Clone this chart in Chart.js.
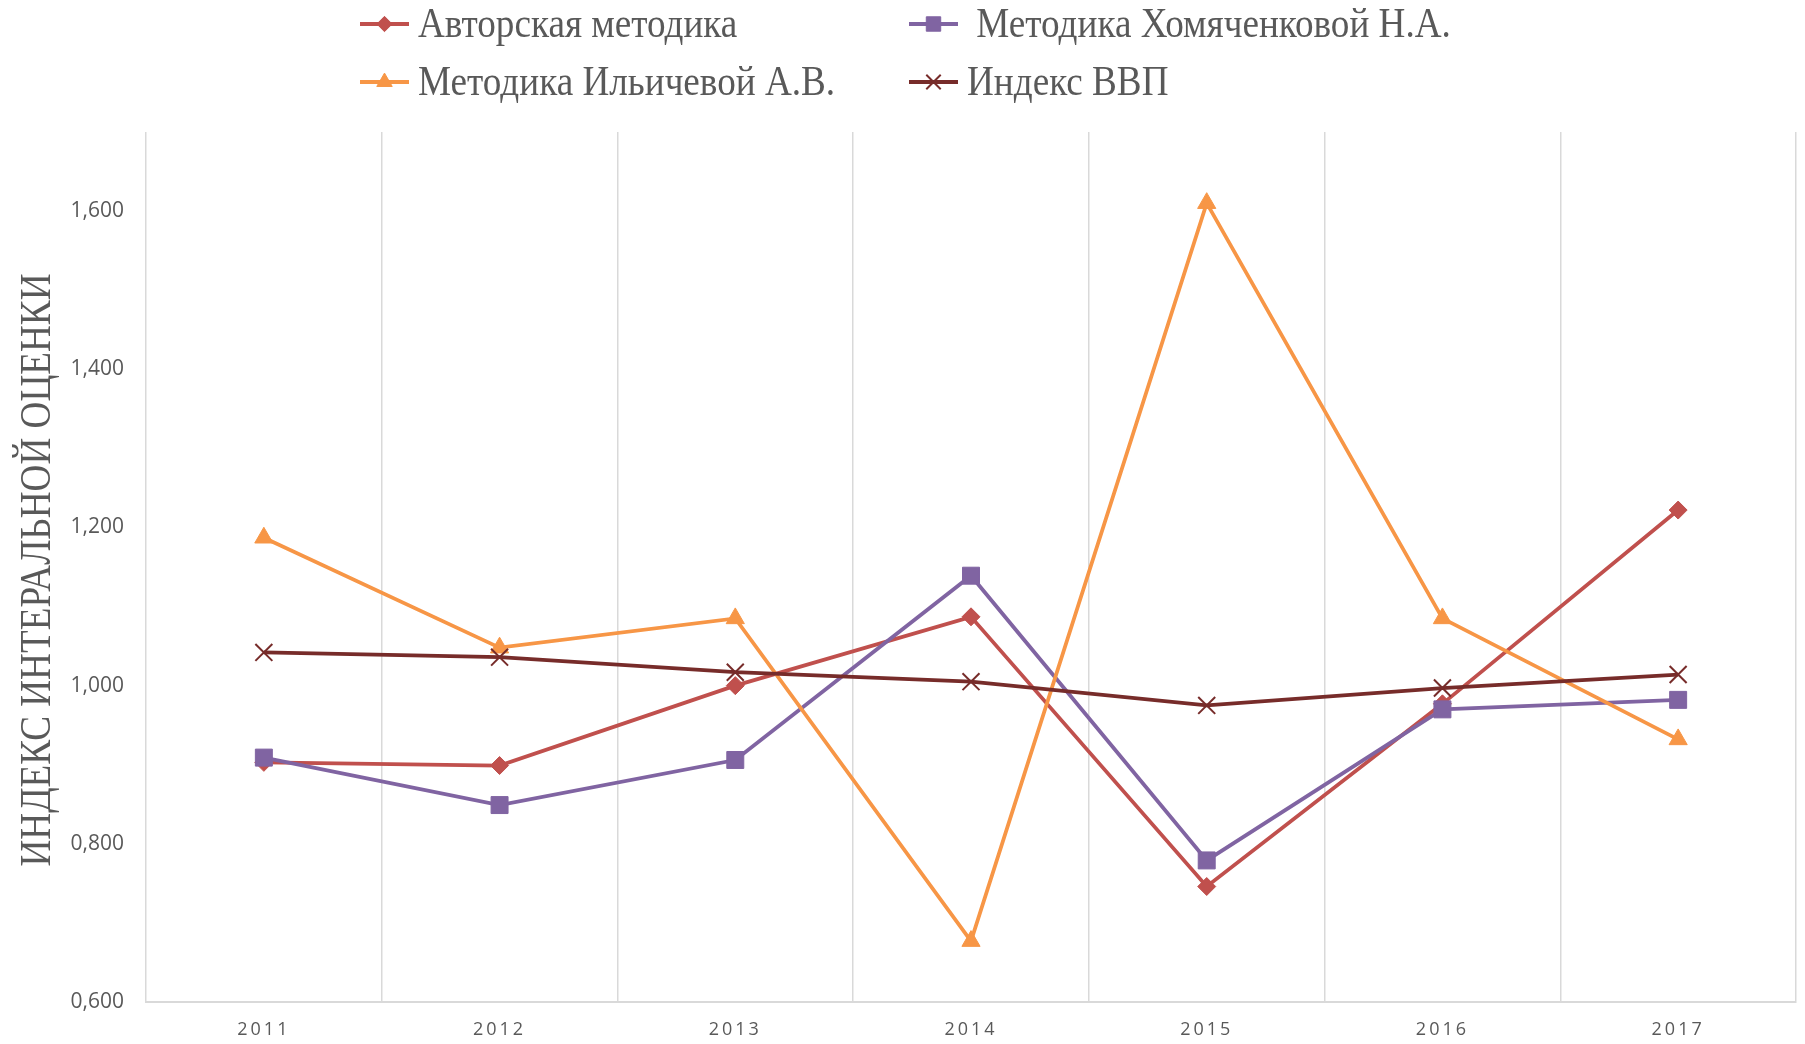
<!DOCTYPE html>
<html>
<head>
<meta charset="utf-8">
<script src="https://cdn.jsdelivr.net/npm/chart.js@4.4.1/dist/chart.umd.min.js"></script>
<style>
  html, body { margin:0; padding:0; background:#fff; overflow:hidden; }
  #wrap { position:relative; width:1805px; height:1044px; }
</style>
</head>
<body>
<div id="wrap"><canvas id="chart"></canvas></div>
<script>
const years = ['2011','2012','2013','2014','2015','2016','2017'];

const seriesLabels = ['Авторская методика', ' Методика Хомяченковой Н.А.', 'Методика Ильичевой А.В.', 'Индекс ВВП'];
const authorValues  = [0.903, 0.899, 1.000, 1.087, 0.746, 0.977, 1.222];
const khomValues    = [0.909, 0.849, 0.906, 1.139, 0.779, 0.970, 0.982];
const ilichValues   = [1.187, 1.048, 1.085, 0.677, 1.610, 1.085, 0.932];
const gdpValues     = [1.042, 1.036, 1.017, 1.005, 0.975, 0.997, 1.014];

const yTicks = [0.6, 0.8, 1.0, 1.2, 1.4, 1.6];
const yTitle = 'ИНДЕКС ИНТЕРАЛЬНОЙ ОЦЕНКИ';

const COLORS = ['#C0504D', '#8064A2', '#F79646', '#772C2A'];
const STYLES = [
  { pointStyle:'rectRot',  radius:9,  bw:1 },
  { pointStyle:'rect',     radius:12, bw:1 },
  { pointStyle:'triangle', radius:10.5, bw:1 },
  { pointStyle:'crossRot', radius:12, bw:2 },
];
const GREY = '#595959';
const SERIF = '"Liberation Serif", "Times New Roman", serif';
const SANS = '"Open Sans", sans-serif';

function fmt(v){
  return Number(v).toFixed(3).replace('.', ',');
}

function makeDataset(i, data){
  const s = STYLES[i];
  return {
    label: seriesLabels[i],
    data,
    borderColor: COLORS[i],
    backgroundColor: COLORS[i],
    borderWidth: 3.75,
    tension: 0,
    pointStyle: s.pointStyle,
    pointRadius: s.radius,
    pointHoverRadius: s.radius,
    pointBackgroundColor: COLORS[i],
    pointBorderColor: COLORS[i],
    pointBorderWidth: s.bw,
    order: 3 - i,
  };
}

// year labels on the x axis are letter-spaced in the original
const spacedX = {
  id:'spacedX',
  afterUpdate(chart){
    const sx = chart.scales.x;
    if (!sx || sx._spaced) return;
    const orig = sx.drawLabels.bind(sx);
    sx.drawLabels = function(area){
      const ctx = chart.ctx;
      ctx.save();
      ctx.letterSpacing = '3px';
      orig(area);
      ctx.restore();
    };
    sx._spaced = true;
  }
};

// legend in two aligned columns + rotated axis title (condensed serif)
const extras = {
  id:'extras',
  afterDraw(chart){
    const ctx = chart.ctx;
    ctx.save();

    const rows = [24, 82];
    const markX = [360, 909];
    const textX = [418, 967];
    chart.data.datasets.forEach((ds, i) => {
      const r = Math.floor(i / 2), c = i % 2;
      const y = rows[r];
      ctx.strokeStyle = ds.borderColor;
      ctx.lineWidth = 4;
      ctx.beginPath();
      ctx.moveTo(markX[c], y);
      ctx.lineTo(markX[c] + 49, y);
      ctx.stroke();
      ctx.fillStyle = ds.pointBackgroundColor;
      ctx.strokeStyle = ds.pointBorderColor;
      ctx.lineWidth = ds.pointBorderWidth;
      Chart.helpers.drawPoint(ctx, {
        pointStyle: ds.pointStyle,
        radius: ds.pointRadius * 0.85,
        rotation: 0,
        borderWidth: ds.pointBorderWidth,
      }, markX[c] + 24.5, y);

      ctx.save();
      ctx.translate(textX[c], y + 2);
      ctx.scale(0.885, 1);
      ctx.font = '42px ' + SERIF;
      ctx.fillStyle = GREY;
      ctx.textAlign = 'left';
      ctx.textBaseline = 'middle';
      ctx.fillText(ds.label, 0, 0);
      ctx.restore();
    });

    const a = chart.chartArea;
    ctx.translate(38, (a.top + a.bottom) / 2 + 3);
    ctx.rotate(-Math.PI / 2);
    ctx.scale(0.845, 1);
    ctx.font = '44px ' + SERIF;
    ctx.fillStyle = GREY;
    ctx.textAlign = 'center';
    ctx.textBaseline = 'middle';
    ctx.fillText(yTitle, 0, 0);
    ctx.restore();
  }
};

const chart = new Chart(document.getElementById('chart'), {
  type: 'line',
  data: {
    labels: years,
    datasets: [
      makeDataset(0, authorValues),
      makeDataset(1, khomValues),
      makeDataset(2, ilichValues),
      makeDataset(3, gdpValues),
    ],
  },
  options: {
    responsive: true,
    maintainAspectRatio: false,
    animation: false,
    devicePixelRatio: 1,
    layout: { autoPadding:false, padding: { top:132, right:9, left:0, bottom:0 } },
    plugins: {
      legend: { display:false },
      tooltip: { enabled:false },
    },
    scales: {
      x: {
        type: 'category',
        offset: true,
        grid: { offset:true, color:'#d9d9d9', lineWidth:1.5, drawTicks:false },
        border: { color:'#d9d9d9', width:2 },
        ticks: { color:GREY, font:{ family:SANS, size:18 }, padding:17, maxRotation:0 },
        afterFit(scale){ scale.height = 42; },
      },
      y: {
        min: 0.6,
        max: 1.7,
        grid: { display:false, drawTicks:false },
        border: { display:false },
        ticks: {
          color: GREY,
          font: { family:SANS, size:21 },
          padding: 22,
          callback: v => fmt(v),
        },
        afterBuildTicks(scale){ scale.ticks = yTicks.map(v => ({ value:v })); },
        afterFit(scale){ scale.width = 146; },
      },
    },
  },
  plugins: [spacedX, extras],
});
</script>
</body>
</html>
